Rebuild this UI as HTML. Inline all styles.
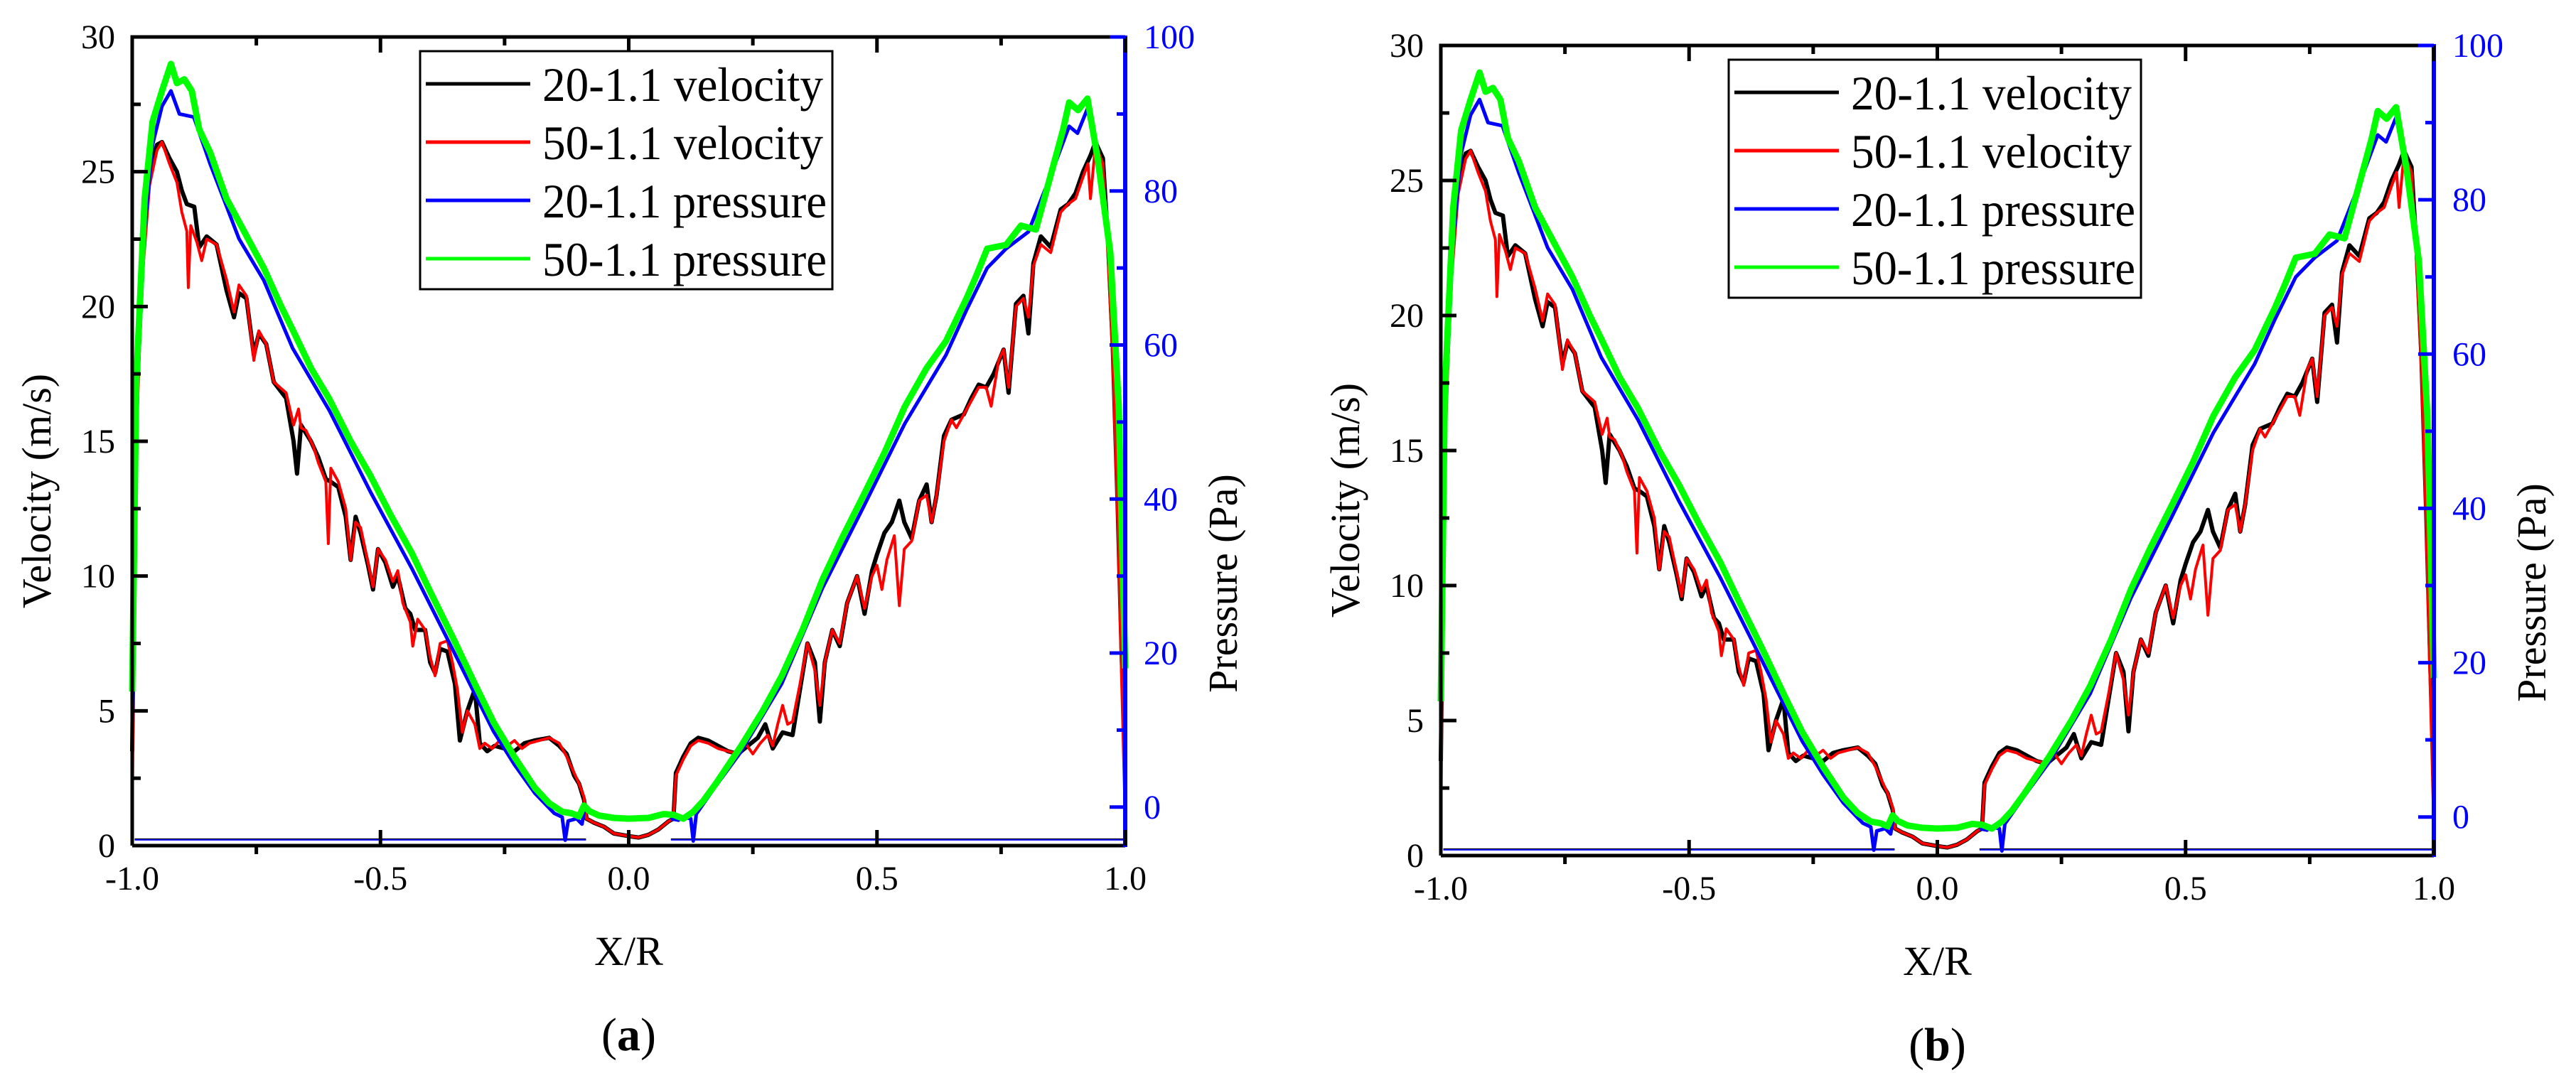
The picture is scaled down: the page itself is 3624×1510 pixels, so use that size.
<!DOCTYPE html>
<html><head><meta charset="utf-8"><style>
html,body{margin:0;padding:0;background:#fff;}
svg{display:block;}
text{font-family:"Liberation Serif","DejaVu Serif",serif;}
</style></head><body>
<svg id="chart" xmlns="http://www.w3.org/2000/svg" width="3624" height="1510" viewBox="0 0 3624 1510" font-family="Liberation Serif, DejaVu Serif, serif"></svg>
<script>
// ---- data (X/R, value) ----
const xTicks = [-1.0,-0.5,0.0,0.5,1.0];
const xTickLabels = ["-1.0","-0.5","0.0","0.5","1.0"];
const vTicks = [0,5,10,15,20,25,30];
const pTicks = [0,20,40,60,80,100];
const seriesNames = ["20-1.1 velocity","50-1.1 velocity","20-1.1 pressure","50-1.1 pressure"];
const vel50 = [[-1.0,0.5],[-0.997,8],[-0.99,16],[-0.98,21],[-0.965,24.5],[-0.95,25.8],[-0.94,26.1],[-0.925,25.3],[-0.91,24.6],[-0.9,23.5],[-0.89,22.8],[-0.887,20.7],[-0.882,23],[-0.87,22.4],[-0.86,21.7],[-0.85,22.5],[-0.83,22.3],[-0.81,21],[-0.795,19.8],[-0.785,20.8],[-0.77,20.4],[-0.755,18.0],[-0.745,19.1],[-0.73,18.6],[-0.715,17.2],[-0.69,16.8],[-0.675,15.6],[-0.665,16.2],[-0.66,15.5],[-0.65,15.4],[-0.635,14.8],[-0.625,14.2],[-0.61,13.5],[-0.605,11.2],[-0.6,14.0],[-0.585,13.5],[-0.57,12.5],[-0.56,10.6],[-0.55,12.0],[-0.54,11.8],[-0.525,10.5],[-0.515,9.6],[-0.505,11.0],[-0.49,10.6],[-0.475,9.8],[-0.465,10.2],[-0.455,9.0],[-0.44,8.3],[-0.435,7.4],[-0.425,8.4],[-0.41,8.0],[-0.4,7.0],[-0.39,6.3],[-0.38,7.5],[-0.365,7.6],[-0.355,6.8],[-0.345,5.8],[-0.335,4.2],[-0.325,5.0],[-0.31,4.5],[-0.3,3.6],[-0.29,3.8],[-0.275,3.6],[-0.26,3.9],[-0.245,3.7],[-0.23,3.9],[-0.215,3.6],[-0.2,3.8],[-0.18,3.9],[-0.16,4.0],[-0.14,3.8],[-0.125,3.3],[-0.11,2.7],[-0.1,2.3],[-0.09,1.8],[-0.085,1.0],[-0.07,0.85],[-0.05,0.7],[-0.03,0.45],[0.0,0.35],[0.02,0.3],[0.04,0.4],[0.06,0.6],[0.08,0.9],[0.09,1.0],[0.095,2.6],[0.1,2.8],[0.11,3.2],[0.125,3.7],[0.14,3.9],[0.16,3.8],[0.18,3.6],[0.2,3.5],[0.22,3.4],[0.235,3.8],[0.25,3.4],[0.265,3.8],[0.28,4.1],[0.29,3.7],[0.3,4.5],[0.31,5.2],[0.32,4.5],[0.33,4.6],[0.345,6.0],[0.36,7.5],[0.375,6.5],[0.385,5.2],[0.395,6.8],[0.41,8.0],[0.425,7.5],[0.44,9.0],[0.46,10.0],[0.475,8.8],[0.49,10.0],[0.5,10.4],[0.51,9.5],[0.52,10.6],[0.535,11.5],[0.545,8.9],[0.555,11.0],[0.57,11.3],[0.585,12.8],[0.6,13.0],[0.61,12.0],[0.62,13.0],[0.635,15.0],[0.65,15.8],[0.66,15.5],[0.675,16.0],[0.69,16.5],[0.705,17.0],[0.72,17.0],[0.73,16.3],[0.745,18.0],[0.755,18.4],[0.765,17.0],[0.78,20.0],[0.795,20.3],[0.805,19.6],[0.815,21.5],[0.83,22.3],[0.85,22.0],[0.87,23.5],[0.885,23.8],[0.9,24.0],[0.915,24.8],[0.925,25.3],[0.93,24.0],[0.94,26.0],[0.955,25.3],[0.965,22.0],[0.975,18.0],[0.985,12.0],[0.993,6.0],[1.0,1.0]];
const vel20 = [[-1.0,3.5],[-0.996,10],[-0.99,17],[-0.98,22],[-0.965,25],[-0.95,26],[-0.94,26.1],[-0.925,25.5],[-0.91,25.0],[-0.9,24.3],[-0.89,23.8],[-0.875,23.7],[-0.865,22.2],[-0.85,22.6],[-0.83,22.3],[-0.81,20.6],[-0.795,19.6],[-0.785,20.5],[-0.77,20.3],[-0.755,18.2],[-0.745,19.0],[-0.73,18.6],[-0.715,17.2],[-0.69,16.6],[-0.675,15.0],[-0.668,13.8],[-0.66,15.6],[-0.64,15.0],[-0.625,14.4],[-0.61,13.6],[-0.6,13.5],[-0.585,13.3],[-0.57,12.2],[-0.56,10.6],[-0.55,12.2],[-0.54,11.6],[-0.525,10.4],[-0.515,9.5],[-0.505,11.0],[-0.49,10.5],[-0.475,9.6],[-0.465,10.0],[-0.45,8.8],[-0.44,8.6],[-0.43,8.0],[-0.41,8.0],[-0.4,6.8],[-0.39,6.4],[-0.38,7.3],[-0.365,7.2],[-0.35,6.0],[-0.34,3.9],[-0.325,5.0],[-0.31,5.8],[-0.3,3.8],[-0.285,3.5],[-0.27,3.7],[-0.25,3.6],[-0.23,3.5],[-0.21,3.8],[-0.19,3.9],[-0.16,4.0],[-0.14,3.7],[-0.125,3.4],[-0.11,2.6],[-0.1,2.3],[-0.09,1.7],[-0.085,1.0],[-0.07,0.85],[-0.05,0.7],[-0.03,0.45],[0.0,0.35],[0.02,0.3],[0.04,0.4],[0.06,0.6],[0.08,0.9],[0.09,1.0],[0.095,2.7],[0.1,2.9],[0.11,3.3],[0.125,3.8],[0.14,4.0],[0.16,3.9],[0.18,3.7],[0.2,3.5],[0.22,3.4],[0.24,3.7],[0.26,4.0],[0.275,4.5],[0.29,3.6],[0.31,4.2],[0.33,4.1],[0.345,5.8],[0.36,7.5],[0.375,6.8],[0.385,4.6],[0.395,6.8],[0.41,8.0],[0.425,7.4],[0.44,9.0],[0.46,10.0],[0.475,8.6],[0.49,10.2],[0.5,10.8],[0.515,11.6],[0.53,12.0],[0.545,12.8],[0.555,12.0],[0.57,11.4],[0.585,12.8],[0.6,13.4],[0.61,12.0],[0.62,13.0],[0.635,15.2],[0.65,15.8],[0.675,16.0],[0.69,16.6],[0.705,17.1],[0.72,17.0],[0.735,17.5],[0.755,18.4],[0.765,16.8],[0.78,20.1],[0.795,20.4],[0.805,19.0],[0.815,21.6],[0.83,22.6],[0.85,22.2],[0.87,23.6],[0.885,23.8],[0.9,24.2],[0.915,25.0],[0.93,25.6],[0.94,26.1],[0.955,25.5],[0.965,22.5],[0.975,18.5],[0.985,12.5],[0.993,7.0],[1.0,3.0]];
const pres20Left = [[-1.0,11],[-0.992,51],[-0.975,75],[-0.959,86],[-0.94,91],[-0.922,93],[-0.905,90],[-0.876,89.6],[-0.843,83.5],[-0.81,78],[-0.785,73.8],[-0.735,68.4],[-0.677,59.6],[-0.603,51.5],[-0.52,40.9],[-0.437,31],[-0.354,20.4],[-0.272,9.8],[-0.23,5.5],[-0.189,1.8],[-0.15,-0.8],[-0.134,-1.3],[-0.128,-4.3],[-0.122,-1.8],[-0.105,-1.5],[-0.094,-2.2],[-0.089,-0.2],[-0.085,-0.4]];
const pres20Right = [[0.085,-1.5],[0.1,-1.7],[0.109,-1.3],[0.125,-1.5],[0.13,-4.4],[0.136,-0.9],[0.175,2.7],[0.225,7.1],[0.308,16],[0.39,28.4],[0.473,39],[0.556,49.8],[0.639,58.7],[0.68,64.5],[0.722,70],[0.76,72.5],[0.805,74.7],[0.854,82.7],[0.887,88.4],[0.904,87.5],[0.924,90.7],[0.945,83.6],[0.97,71],[0.987,51.5],[1.0,16]];
const pres50 = [[-1.0,15],[-0.992,55],[-0.975,79],[-0.959,89],[-0.94,93],[-0.922,96.5],[-0.91,94],[-0.895,94.5],[-0.88,93],[-0.865,88],[-0.843,85],[-0.81,79],[-0.785,76],[-0.76,73],[-0.735,70],[-0.7,65],[-0.677,62],[-0.64,57],[-0.603,53],[-0.56,47.5],[-0.52,43],[-0.48,38],[-0.437,33],[-0.4,28],[-0.354,22],[-0.31,16],[-0.272,11],[-0.23,6.5],[-0.189,2.5],[-0.16,0.5],[-0.134,-0.6],[-0.115,-0.8],[-0.1,-1.2],[-0.09,0.2],[-0.08,-0.5],[-0.06,-1.1],[-0.03,-1.4],[0.0,-1.5],[0.04,-1.4],[0.07,-0.9],[0.09,-1.0],[0.11,-1.5],[0.13,-0.6],[0.15,0.8],[0.175,3],[0.225,7.8],[0.27,12.5],[0.308,17],[0.35,23],[0.39,29.5],[0.43,35],[0.473,40.5],[0.515,46],[0.556,52],[0.6,57],[0.639,60.5],[0.68,66],[0.7,69],[0.722,72.5],[0.76,73],[0.79,75.5],[0.82,75],[0.854,83],[0.875,88],[0.887,91.5],[0.905,90.5],[0.924,92],[0.945,84],[0.97,72],[0.987,52],[1.0,18]];
const baseVel = 0.24;
const basePres = -4.25;

const NS = "http://www.w3.org/2000/svg";
const FONT = "Liberation Serif, DejaVu Serif, serif";
const svg = document.getElementById("chart");
function mk(tag, attrs, parent){
  const e = document.createElementNS(NS, tag);
  for (const k in attrs) e.setAttribute(k, attrs[k]);
  if (tag === "text") e.setAttribute("font-family", FONT);
  (parent||svg).appendChild(e);
  return e;
}
function drawPanel(P){
  const g = mk("g", {});
  
  
  const sx = v => P.x0 + (v + 1) / 2 * (P.x1 - P.x0);
  const sv = v => P.yb - v / 30 * (P.yb - P.yt);
  const sp = v => P.yb - (v + 5) / 105 * (P.yb - P.yt);
  const path = (arr, fy) => arr.map((d,i)=>(i?"L":"M")+sx(d[0]).toFixed(1)+","+fy(d[1]).toFixed(1)).join("");
  let l = mk("line",{x1:sx(-0.995),x2:sx(-0.086),y1:sv(baseVel),y2:sv(baseVel),stroke:"#000","stroke-width":2},g);
  
  
  l = mk("line",{x1:sx(0.085),x2:sx(0.998),y1:sv(baseVel),y2:sv(baseVel),stroke:"#000","stroke-width":2},g);
  
  
  l = mk("line",{x1:sx(-0.995),x2:sx(-0.086),y1:sp(basePres),y2:sp(basePres),stroke:"#00f","stroke-width":2},g);
  
  
  l = mk("line",{x1:sx(0.085),x2:sx(0.998),y1:sp(basePres),y2:sp(basePres),stroke:"#00f","stroke-width":2},g);
  
  
  let s = mk("path",{d:path(vel20,sv),fill:"none",stroke:"#000","stroke-width":6,"stroke-linejoin":"round"},g);
  
  
  s = mk("path",{d:path(vel50,sv),fill:"none",stroke:"#f00","stroke-width":4,"stroke-linejoin":"round"},g);
  
  
  s = mk("path",{d:path(pres20Left,sp)+path(pres20Right,sp),fill:"none",stroke:"#00f","stroke-width":5,"stroke-linejoin":"round"},g);
  
  
  s = mk("path",{d:path(pres50,sp),fill:"none",stroke:"#0f0","stroke-width":9,"stroke-linejoin":"round"},g);
  
  
  let a = mk("path",{d:`M${P.x0},${P.yb}L${P.x0},${P.yt}L${P.x1},${P.yt}M${P.x0},${P.yb}L${P.x1},${P.yb}`,fill:"none",stroke:"#000","stroke-width":5},g);
  
  
  a = mk("line",{x1:P.x1,x2:P.x1,y1:P.yt-2,y2:P.yb+2,stroke:"#00f","stroke-width":6},g);
  
  
  for (let i=0;i<xTicks.length;i++){
    const x = sx(xTicks[i]);
    let t = mk("line",{x1:x,x2:x,y1:P.yb,y2:P.yb-22,stroke:"#000","stroke-width":5},g);
    
    
    t = mk("line",{x1:x,x2:x,y1:P.yt,y2:P.yt+22,stroke:"#000","stroke-width":5},g);
    
    
    if (i<xTicks.length-1){
      const xm = sx((xTicks[i]+xTicks[i+1])/2);
      t = mk("line",{x1:xm,x2:xm,y1:P.yb,y2:P.yb+12,stroke:"#000","stroke-width":5},g);
      
      
      t = mk("line",{x1:xm,x2:xm,y1:P.yt,y2:P.yt+12,stroke:"#000","stroke-width":5},g);
      
      
    }
    const tx = mk("text",{x:x,y:P.yb+62,"font-size":48,"text-anchor":"middle",fill:"#000"},g);
    tx.textContent = xTickLabels[i];
    
    
  }
  for (let i=0;i<vTicks.length;i++){
    const y = sv(vTicks[i]);
    let t = mk("line",{x1:P.x0,x2:P.x0+22,y1:y,y2:y,stroke:"#000","stroke-width":5},g);
    
    
    if (i<vTicks.length-1){
      const ym = sv(vTicks[i]+2.5);
      t = mk("line",{x1:P.x0,x2:P.x0+12,y1:ym,y2:ym,stroke:"#000","stroke-width":5},g);
      
      
    }
    const tx = mk("text",{x:P.x0-24,y:y+16,"font-size":48,"text-anchor":"end",fill:"#000"},g);
    tx.textContent = String(vTicks[i]);
    
    
  }
  for (let i=0;i<pTicks.length;i++){
    const y = sp(pTicks[i]);
    let t = mk("line",{x1:P.x1,x2:P.x1-22,y1:y,y2:y,stroke:"#00f","stroke-width":5},g);
    
    
    if (i<pTicks.length-1){
      const ym = sp(pTicks[i]+10);
      t = mk("line",{x1:P.x1,x2:P.x1-12,y1:ym,y2:ym,stroke:"#00f","stroke-width":5},g);
      
      
    }
    const tx = mk("text",{x:P.x1+26,y:y+16,"font-size":48,fill:"#00f"},g);
    tx.textContent = String(pTicks[i]);
    
    
  }
  let tt = mk("text",{x:0,y:0,"font-size":58,"text-anchor":"middle",transform:`translate(${P.x0-115},${(P.yt+P.yb)/2+70}) rotate(-90)`},g);
  tt.textContent = "Velocity (m/s)";
  
  
  tt = mk("text",{x:0,y:0,"font-size":58,"text-anchor":"middle",transform:`translate(${P.x1+157},${(P.yt+P.yb)/2+200}) rotate(-90)`},g);
  tt.textContent = "Pressure (Pa)";
  
  
  tt = mk("text",{x:(P.x0+P.x1)/2,y:P.yb+168,"font-size":58,"text-anchor":"middle"},g);
  tt.textContent = "X/R";
  
  
  tt = mk("text",{x:(P.x0+P.x1)/2,y:P.yb+288,"font-size":66,"text-anchor":"middle"},g);
  tt.innerHTML = '(<tspan font-weight="bold">'+P.tag+'</tspan>)';
  
  
  const lg = mk("g",{},g);
  
  
  const lx = P.x0+405, ly = P.yt+20;
  mk("rect",{x:lx,y:ly,width:580,height:335,fill:"#fff",stroke:"#000","stroke-width":3},lg);
  const cols = ["#000","#f00","#00f","#0f0"];
  const widths = [395,395,400,400];
  for (let i=0;i<4;i++){
    const yy = ly+46+i*82;
    const en = mk("g",{},lg);
    
    
    mk("line",{x1:lx+8,x2:lx+155,y1:yy,y2:yy,stroke:cols[i],"stroke-width":5},en);
    const t = mk("text",{x:lx+172,y:yy+24,"font-size":68,textLength:widths[i],lengthAdjust:"spacingAndGlyphs"},en);
    t.textContent = seriesNames[i];
  }
}
drawPanel({tag:"a",x0:186,x1:1583,yt:52,yb:1190});
drawPanel({tag:"b",x0:2027,x1:3424,yt:64,yb:1204});
</script>
</body></html>
